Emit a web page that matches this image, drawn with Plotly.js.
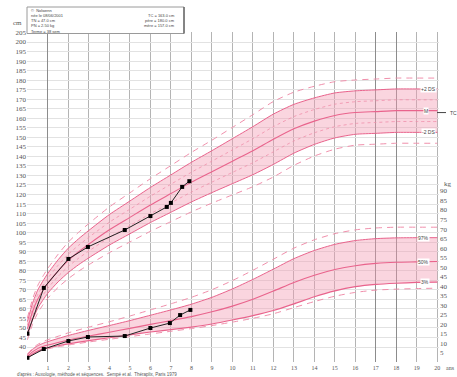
<!DOCTYPE html>
<html>
<head>
<meta charset="utf-8">
<script src="https://cdn.plot.ly/plotly-3.0.1.min.js"></script>
<style>html,body{margin:0;padding:0;background:#fff}#chart{width:457px;height:377px}</style>
</head>
<body>
<div id="chart"></div>
<script>
// Reference height (cm): mean and standard deviation by age (years)
const hAge  = [0, 0.25, 0.5, 0.75, 1, 1.5, 2, 2.5, 3, 4, 5, 6, 7, 8, 9, 10, 11, 12, 13, 14, 15, 16, 17, 18, 19, 20];
const hMean = [49.5, 58.5, 65, 69.5, 73.5, 80, 85.5, 90, 94, 101.5, 108, 114.5, 120.5, 126.5, 132, 137.5, 143, 149, 154.5, 158.5, 161.5, 163, 163.5, 164, 164, 164];
const hSD   = [1.9, 2.2, 2.4, 2.5, 2.6, 2.9, 3.2, 3.4, 3.6, 4.0, 4.3, 4.6, 4.9, 5.2, 5.5, 5.9, 6.3, 6.6, 6.4, 6.1, 5.9, 5.7, 5.7, 5.7, 5.7, 5.7];

// Reference weight (kg): percentiles by age (years)
const wAge = [0, 0.25, 0.5, 0.75, 1, 1.5, 2, 3, 4, 5, 6, 7, 8, 9, 10, 11, 12, 13, 14, 15, 16, 17, 18, 19, 20];
const wP1  = [2.3, 4.1, 5.5, 6.5, 7.2, 8.3, 9.2, 10.8, 12.2, 13.6, 15.0, 16.4, 17.8, 19.4, 21.2, 23.2, 25.6, 28.8, 32.0, 34.8, 36.8, 38.0, 38.5, 38.8, 39.0];
const wP3  = [2.6, 4.5, 6.0, 7.0, 7.7, 8.8, 9.8, 11.5, 13.0, 14.5, 16.0, 17.3, 18.6, 20.2, 22.3, 24.6, 27.3, 30.8, 34.5, 37.6, 39.8, 41.0, 41.6, 42.0, 42.2];
const wP50 = [3.3, 5.6, 7.3, 8.4, 9.2, 10.5, 11.8, 13.9, 15.9, 17.9, 20.0, 22.0, 24.1, 26.6, 29.6, 33.2, 37.5, 42.0, 45.8, 48.8, 50.8, 52.0, 52.6, 52.8, 53.0];
const wP97 = [4.1, 6.9, 8.8, 10.0, 11.0, 12.6, 14.2, 16.9, 19.4, 22.0, 24.8, 27.6, 30.6, 34.2, 38.6, 43.6, 49.0, 54.5, 58.8, 62.0, 64.0, 65.0, 65.4, 65.5, 65.5];
const wP99 = [4.5, 7.4, 9.5, 10.9, 12.0, 13.8, 15.6, 18.6, 21.4, 24.4, 27.6, 30.8, 34.2, 38.2, 43.0, 48.4, 54.2, 60.0, 64.4, 67.6, 69.6, 70.6, 71.0, 71.0, 71.0];

// Patient measurements
const heightAge = [0, 0.8, 2.0, 2.95, 4.75, 6.0, 6.8, 7.0, 7.55, 7.9];
const heightCm  = [47.0, 71.0, 86.2, 92.5, 101.4, 108.7, 113.5, 115.6, 124.0, 127.0];
const weightAge = [0, 0.8, 2.0, 2.95, 4.75, 6.0, 6.95, 7.45, 7.95];
const weightKg  = [2.5, 7.1, 11.3, 13.4, 13.9, 18.1, 20.7, 24.9, 27.6];

// Header lines of the patient card
const cardLeft  = ['©  Nolwenn', 'née le 08/06/2001', 'TN = 47.0 cm', 'PN = 2.50 kg', 'Terme = 38 sem'];
const cardRight = ['TC = 163.0 cm', 'père = 180.0 cm', 'mère = 157.0 cm'];

// Axis ticks
const ageTicks = [1,2,3,4,5,6,7,8,9,10,11,12,13,14,15,16,17,18,19,20];
const ageTickText = ['1','2','3','4','5','6','7','8','9','10','11','12','13','14','15','16','17','18','19','20'];
const cmTicks = [];
for (let v = 40; v <= 205; v += 5) cmTicks.push(v);
const kgTicks = [];
for (let v = 5; v <= 90; v += 5) kgTicks.push(v);
const darkYears = [1, 17, 18];

const sdCurve = k => hMean.map((m, i) => m + k * hSD[i]);

const PINK = '#e9638c';
const PINK_LIGHT = '#f08fab';
const BAND = 'rgba(244,155,178,0.42)';
const SPL = {shape: 'spline', smoothing: 0.6};

function line(x, y, opts) {
  return Object.assign({x: x, y: y, mode: 'lines', hoverinfo: 'skip', showlegend: false,
    line: Object.assign({color: PINK, width: 1}, SPL)}, opts || {});
}
const ln = (o) => Object.assign({}, SPL, o);

const traces = [
  // height band (-2 DS .. +2 DS)
  line(hAge, sdCurve(2), {line: ln({color: PINK, width: 1})}),
  line(hAge, sdCurve(-2), {fill: 'tonexty', fillcolor: BAND, line: ln({color: PINK, width: 1})}),
  line(hAge, sdCurve(1), {line: ln({color: PINK_LIGHT, width: 0.8, dash: 'dot'})}),
  line(hAge, sdCurve(-1), {line: ln({color: PINK_LIGHT, width: 0.8, dash: 'dot'})}),
  line(hAge, hMean, {line: ln({color: PINK, width: 1.1})}),
  line(hAge, sdCurve(3), {line: ln({color: PINK_LIGHT, width: 1, dash: '6px,5px'})}),
  line(hAge, sdCurve(-3), {line: ln({color: PINK_LIGHT, width: 1, dash: '6px,5px'})}),

  // weight band (3% .. 97%)
  line(wAge, wP97, {yaxis: 'y2', line: ln({color: PINK, width: 1})}),
  line(wAge, wP3, {yaxis: 'y2', fill: 'tonexty', fillcolor: BAND, line: ln({color: PINK, width: 1.2})}),
  line(wAge, wP50, {yaxis: 'y2', line: ln({color: PINK, width: 1.1})}),
  line(wAge, wP99, {yaxis: 'y2', line: ln({color: PINK_LIGHT, width: 1, dash: '6px,5px'})}),
  line(wAge, wP1, {yaxis: 'y2', line: ln({color: PINK_LIGHT, width: 1, dash: '6px,5px'})}),

  // patient
  {x: heightAge, y: heightCm, mode: 'lines+markers', hoverinfo: 'skip', showlegend: false,
   line: {color: '#222', width: 1}, marker: {symbol: 'square', size: 4, color: '#000'}},
  {x: weightAge, y: weightKg, yaxis: 'y2', mode: 'lines+markers', hoverinfo: 'skip', showlegend: false,
   line: {color: '#222', width: 1}, marker: {symbol: 'square', size: 4, color: '#000'}},

  // darker year lines drawn on a twin x axis
  {x: [0], y: [100], xaxis: 'x2', mode: 'markers', marker: {opacity: 0}, hoverinfo: 'skip', showlegend: false}
];

const tickFont = {family: 'Liberation Serif, DejaVu Serif, serif', size: 7, color: '#555'};
const xTickFont = {family: 'Liberation Serif, DejaVu Serif, serif', size: 6, color: '#555'};
const tiny = {family: 'Liberation Sans, Arial, sans-serif', size: 5, color: '#444'};
const cardFont = {family: 'Liberation Sans, Arial, sans-serif', size: 4, color: '#444'};

// plot area in pixels: x 27..439, y 32..362
const px = p => (p - 27) / 412;
const py = p => (362 - p) / 330;

const annotations = [];
cardLeft.forEach((t, i) => annotations.push({xref: 'paper', yref: 'paper', x: px(30), y: py(10.2 + 5.2 * i),
  text: t, showarrow: false, xanchor: 'left', yanchor: 'middle', borderpad: 0, font: cardFont}));
cardRight.forEach((t, i) => annotations.push({xref: 'paper', yref: 'paper', x: px(176), y: py(15.4 + 5.2 * i),
  text: t, showarrow: false, xanchor: 'right', yanchor: 'middle', borderpad: 0, font: cardFont}));

annotations.push(
  {xref: 'paper', yref: 'paper', x: px(24), y: py(23), text: 'cm', showarrow: false, xanchor: 'right', yanchor: 'middle', font: tickFont},
  {xref: 'paper', yref: 'paper', x: px(442), y: py(184), text: 'kg', showarrow: false, xanchor: 'left', yanchor: 'middle', font: tickFont},
  {xref: 'paper', yref: 'paper', x: px(444), y: py(368), text: 'ans', showarrow: false, xanchor: 'left', yanchor: 'middle', font: xTickFont},
  {xref: 'paper', yref: 'y', x: px(448), y: 163, text: 'TC', showarrow: false, xanchor: 'left', yanchor: 'middle', font: tiny},

  {xref: 'x', yref: 'y', x: 19.55, y: 175.4, text: '+2 DS', showarrow: false, bgcolor: '#fff', borderpad: 0, font: tiny},
  {xref: 'x', yref: 'y', x: 19.45, y: 164, text: 'M', showarrow: false, bgcolor: '#fff', borderpad: 0, font: tiny},
  {xref: 'x', yref: 'y', x: 19.55, y: 152.6, text: '-2 DS', showarrow: false, bgcolor: '#fff', borderpad: 0, font: tiny},
  {xref: 'x', yref: 'y2', x: 19.3, y: 65.5, text: '97%', showarrow: false, bgcolor: '#fff', borderpad: 0, font: tiny},
  {xref: 'x', yref: 'y2', x: 19.3, y: 53.0, text: '50%', showarrow: false, bgcolor: '#fff', borderpad: 0, font: tiny},
  {xref: 'x', yref: 'y2', x: 19.4, y: 42.2, text: '3%', showarrow: false, bgcolor: '#fff', borderpad: 0, font: tiny},

  {xref: 'paper', yref: 'paper', x: px(15), y: py(374.5), text: "d'après : Auxologie, méthode et séquences.  Sempé et al.  Théraplix, Paris 1979",
   showarrow: false, xanchor: 'left', yanchor: 'middle', font: {family: 'Liberation Sans, Arial, sans-serif', size: 4.5, color: '#555'}}
);

const layout = {
  width: 457, height: 377,
  margin: {l: 27, r: 18, t: 32, b: 15, pad: 0},
  paper_bgcolor: '#fff', plot_bgcolor: '#fff',
  showlegend: false,
  xaxis: {range: [-0.02, 20.08], tickvals: ageTicks, ticktext: ageTickText, showgrid: true,
          gridcolor: '#b4b4b4', gridwidth: 1, zeroline: false, showline: false, ticks: '',
          tickfont: xTickFont, ticklabelstandoff: 1, fixedrange: true},
  xaxis2: {overlaying: 'x', range: [-0.02, 20.08], tickvals: darkYears, showticklabels: false,
           showgrid: true, gridcolor: '#8c8c8c', gridwidth: 1, zeroline: false, showline: false, ticks: ''},
  yaxis: {range: [32.13, 205.27], tickvals: cmTicks, showgrid: true, gridcolor: '#e2e2e2', gridwidth: 1,
          zeroline: false, showline: false, ticks: '', tickfont: tickFont, fixedrange: true},
  yaxis2: {overlaying: 'y', side: 'right', range: [0.28, 173.4], tickvals: kgTicks, showgrid: false,
           zeroline: false, showline: false, ticks: '', tickfont: tickFont, fixedrange: true},
  shapes: [
    {type: 'rect', xref: 'paper', yref: 'paper', x0: px(27), x1: px(184), y0: py(33.5), y1: py(7),
     fillcolor: '#fff', line: {color: '#9a9a9a', width: 1}, layer: 'above'},
    {type: 'line', xref: 'paper', yref: 'paper', x0: px(184), x1: px(184), y0: py(33.5), y1: py(7),
     line: {color: '#555', width: 1.2}, layer: 'above'},
    // target height marker
    {type: 'line', xref: 'paper', yref: 'y', x0: px(437), x1: px(446), y0: 163, y1: 163,
     line: {color: '#444', width: 1}}
  ],
  annotations: annotations
};

Plotly.newPlot('chart', traces, layout, {staticPlot: true, displayModeBar: false});
</script>
</body>
</html>
